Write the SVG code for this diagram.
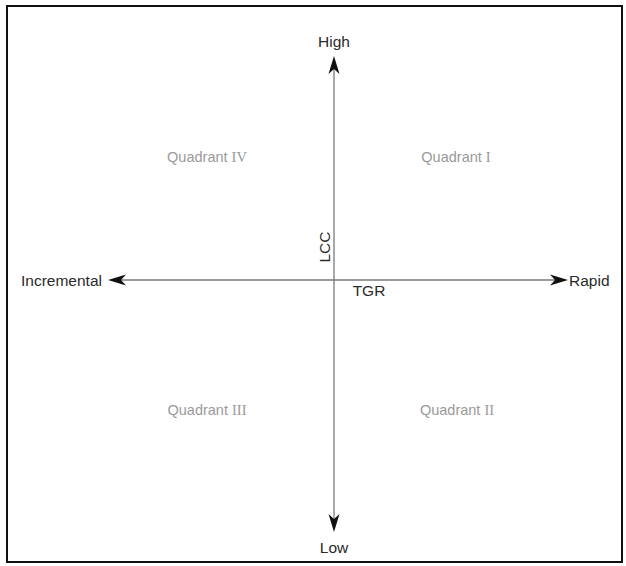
<svg xmlns="http://www.w3.org/2000/svg" width="626" height="566" viewBox="0 0 626 566">
  <style>
    .axis { stroke: #7a7a7a; stroke-width: 1.3; fill: none; }
    .lbl { font-family: "Liberation Sans", Arial, sans-serif; font-size: 15.5px; fill: #2a2a2a; }
    .quad { font-family: "Liberation Sans", Arial, sans-serif; font-size: 14.5px; fill: #9a9a9a; text-anchor: middle; }
    .num { font-family: "Liberation Serif", "Times New Roman", serif; }
    .head { fill: #111; }
  </style>
  <defs>
    <!-- notched arrowhead pointing along +x, tip at origin -->
    <path id="arrowhead" d="M0,0 L-18,-5.5 L-13,0 L-18,5.5 Z"/>
  </defs>

  <rect x="0" y="0" width="626" height="566" fill="#ffffff"/>
  <!-- frame -->
  <rect x="7" y="6" width="615" height="556" fill="none" stroke="#111" stroke-width="2"/>

  <g id="connectors">
    <line class="axis" x1="334" y1="62" x2="334" y2="526"/>
    <line class="axis" x1="113" y1="280" x2="563" y2="280"/>
    <use href="#arrowhead" class="head" transform="translate(334,56) rotate(-90)"/>
    <use href="#arrowhead" class="head" transform="translate(334,532) rotate(90)"/>
    <use href="#arrowhead" class="head" transform="translate(108,280) rotate(180)"/>
    <use href="#arrowhead" class="head" transform="translate(568,280)"/>
  </g>

  <g id="label-high"><text class="lbl" x="334" y="47" text-anchor="middle">High</text></g>
  <g id="label-low"><text class="lbl" x="334" y="553" text-anchor="middle">Low</text></g>
  <g id="label-incremental"><text class="lbl" x="21" y="286">Incremental</text></g>
  <g id="label-rapid"><text class="lbl" x="569" y="286">Rapid</text></g>
  <g id="label-tgr"><text class="lbl" x="369" y="296" text-anchor="middle">TGR</text></g>
  <g id="label-lcc"><text class="lbl" transform="translate(330,247) rotate(-90)" text-anchor="middle">LCC</text></g>

  <g id="quadrant-4"><text class="quad" x="207" y="162">Quadrant <tspan class="num">IV</tspan></text></g>
  <g id="quadrant-1"><text class="quad" x="456" y="162">Quadrant <tspan class="num">I</tspan></text></g>
  <g id="quadrant-3"><text class="quad" x="207" y="415">Quadrant <tspan class="num">III</tspan></text></g>
  <g id="quadrant-2"><text class="quad" x="457" y="415">Quadrant <tspan class="num">II</tspan></text></g>
</svg>
